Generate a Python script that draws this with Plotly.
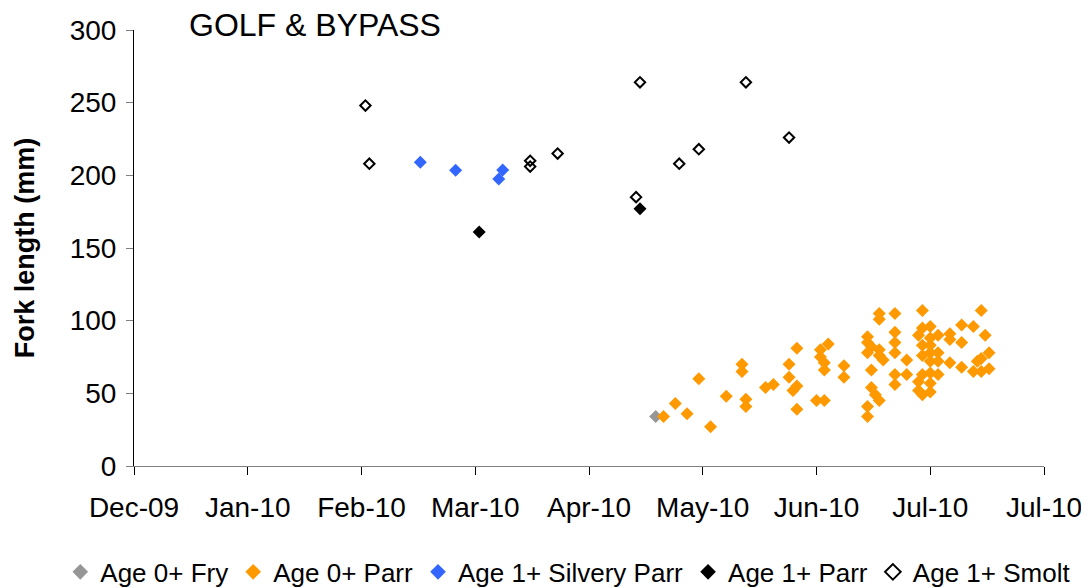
import plotly.graph_objects as go

# fish fork lengths (mm) by capture date
fry_dates = ["2010-04-22"]
fry_len = [34]

parr_dates = [
    "2010-04-24", "2010-04-27", "2010-04-30", "2010-05-03", "2010-05-06", "2010-05-10",
    "2010-05-14", "2010-05-14", "2010-05-15", "2010-05-15", "2010-05-20", "2010-05-22",
    "2010-05-26", "2010-05-26", "2010-05-27", "2010-05-28", "2010-05-28", "2010-05-28",
    "2010-06-03", "2010-06-03", "2010-06-04", "2010-06-04", "2010-06-05", "2010-06-02",
    "2010-06-04", "2010-06-09", "2010-06-09",
    "2010-06-15", "2010-06-15", "2010-06-16", "2010-06-18", "2010-06-15", "2010-06-18",
    "2010-06-19", "2010-06-16", "2010-06-16", "2010-06-17", "2010-06-18", "2010-06-15",
    "2010-06-15", "2010-06-18", "2010-06-18",
    "2010-06-22", "2010-06-22", "2010-06-22", "2010-06-22", "2010-06-25", "2010-06-22",
    "2010-06-25", "2010-06-22",
    "2010-06-29", "2010-06-29", "2010-07-01", "2010-06-28", "2010-07-01", "2010-07-03",
    "2010-06-29", "2010-07-01", "2010-06-29", "2010-07-01", "2010-07-03", "2010-07-01",
    "2010-07-03", "2010-06-29", "2010-07-01", "2010-07-03", "2010-06-28", "2010-07-01",
    "2010-06-28", "2010-07-01", "2010-06-29",
    "2010-07-06", "2010-07-09", "2010-07-06", "2010-07-09", "2010-07-06", "2010-07-09",
    "2010-07-12", "2010-07-15", "2010-07-14", "2010-07-16", "2010-07-14", "2010-07-13",
    "2010-07-12", "2010-07-16", "2010-07-14",
]
parr_len = [
    34, 43, 36, 60, 27, 48,
    65, 70, 46, 41, 54, 56,
    70, 61, 52, 55, 81, 39,
    80, 75, 71, 66, 84, 45,
    45, 69, 61,
    89, 85, 82, 80, 78, 76,
    73, 66, 54, 49, 45, 41,
    34, 105, 101,
    105, 92, 85, 78, 73, 63,
    63, 56,
    107, 95, 96, 90, 88, 90,
    83, 83, 76, 78, 78, 72,
    72, 63, 64, 63, 58, 57,
    52, 51, 49,
    91, 97, 87, 85, 71, 68,
    96, 90, 107, 78, 74, 72,
    65, 67, 65,
]

silvery_dates = ["2010-02-21", "2010-03-02", "2010-03-13", "2010-03-14"]
silvery_len = [209, 203.5, 197.5, 203.7]

parr1_dates = ["2010-03-08", "2010-04-18"]
parr1_len = [161, 177]

smolt_dates = ["2010-02-07", "2010-02-08", "2010-03-21", "2010-03-21", "2010-03-28",
               "2010-04-17", "2010-04-18", "2010-04-28", "2010-05-03", "2010-05-15",
               "2010-05-26"]
smolt_len = [248, 208, 210, 206, 215, 185, 264, 208, 218, 264, 226]

# axis ticks (Excel date axis, 29 day step)
tick_dates = ["2009-12-10", "2010-01-08", "2010-02-06", "2010-03-07", "2010-04-05",
              "2010-05-04", "2010-06-02", "2010-07-01", "2010-07-30"]
tick_labels = ["Dec-09", "Jan-10", "Feb-10", "Mar-10", "Apr-10",
               "May-10", "Jun-10", "Jul-10", "Jul-10"]

font = "Liberation Sans, Arial, sans-serif"

fig = go.Figure()
fig.add_trace(go.Scatter(x=fry_dates, y=fry_len, mode="markers", name="Age 0+ Fry",
                         marker=dict(symbol="diamond", size=10, color="#969696")))
fig.add_trace(go.Scatter(x=parr_dates, y=parr_len, mode="markers", name="Age 0+ Parr",
                         marker=dict(symbol="diamond", size=10, color="#FF9900")))
fig.add_trace(go.Scatter(x=silvery_dates, y=silvery_len, mode="markers",
                         name="Age 1+ Silvery Parr",
                         marker=dict(symbol="diamond", size=10, color="#3366FF")))
fig.add_trace(go.Scatter(x=parr1_dates, y=parr1_len, mode="markers", name="Age 1+ Parr",
                         marker=dict(symbol="diamond", size=10, color="black")))
fig.add_trace(go.Scatter(x=smolt_dates, y=smolt_len, mode="markers", name="Age 1+ Smolt",
                         marker=dict(symbol="diamond-open", size=8, color="black",
                                     line=dict(width=2, color="black"))))

# page body has an 8px margin, so the figure is 8px smaller and shifted
fig.update_layout(
    width=1081, height=580,
    margin=dict(l=126, r=45, t=22, b=122, autoexpand=False),
    paper_bgcolor="white", plot_bgcolor="white",
    font=dict(family=font, size=28, color="black"),
    showlegend=True,
    legend=dict(orientation="h", x=-0.081, xanchor="left",
                y=-0.243, yanchor="middle",
                font=dict(size=26), itemsizing="constant", itemwidth=30,
                tracegroupgap=0),
    annotations=[dict(text="GOLF & BYPASS", xref="paper", x=(187 - 134) / 910,
                      xanchor="left", yref="paper", y=(466 - 25) / 436,
                      yanchor="middle", showarrow=False, font=dict(size=32))],
)

fig.update_xaxes(range=["2009-12-10", "2010-07-30"], tickmode="array",
                 tickvals=tick_dates, ticktext=tick_labels,
                 showgrid=False, zeroline=False, showline=True, linecolor="#808080",
                 linewidth=1, ticks="outside", ticklen=8, tickcolor="black",
                 ticklabelstandoff=8)
fig.update_yaxes(range=[0, 300], dtick=50, tick0=0,
                 showgrid=False, zeroline=False, showline=True, linecolor="black",
                 linewidth=1, ticks="outside", ticklen=7, tickcolor="#808080",
                 ticklabelstandoff=4,
                 title=dict(text="<b>Fork length (mm)</b>", font=dict(size=27), standoff=27))

fig.write_html("out.html")
